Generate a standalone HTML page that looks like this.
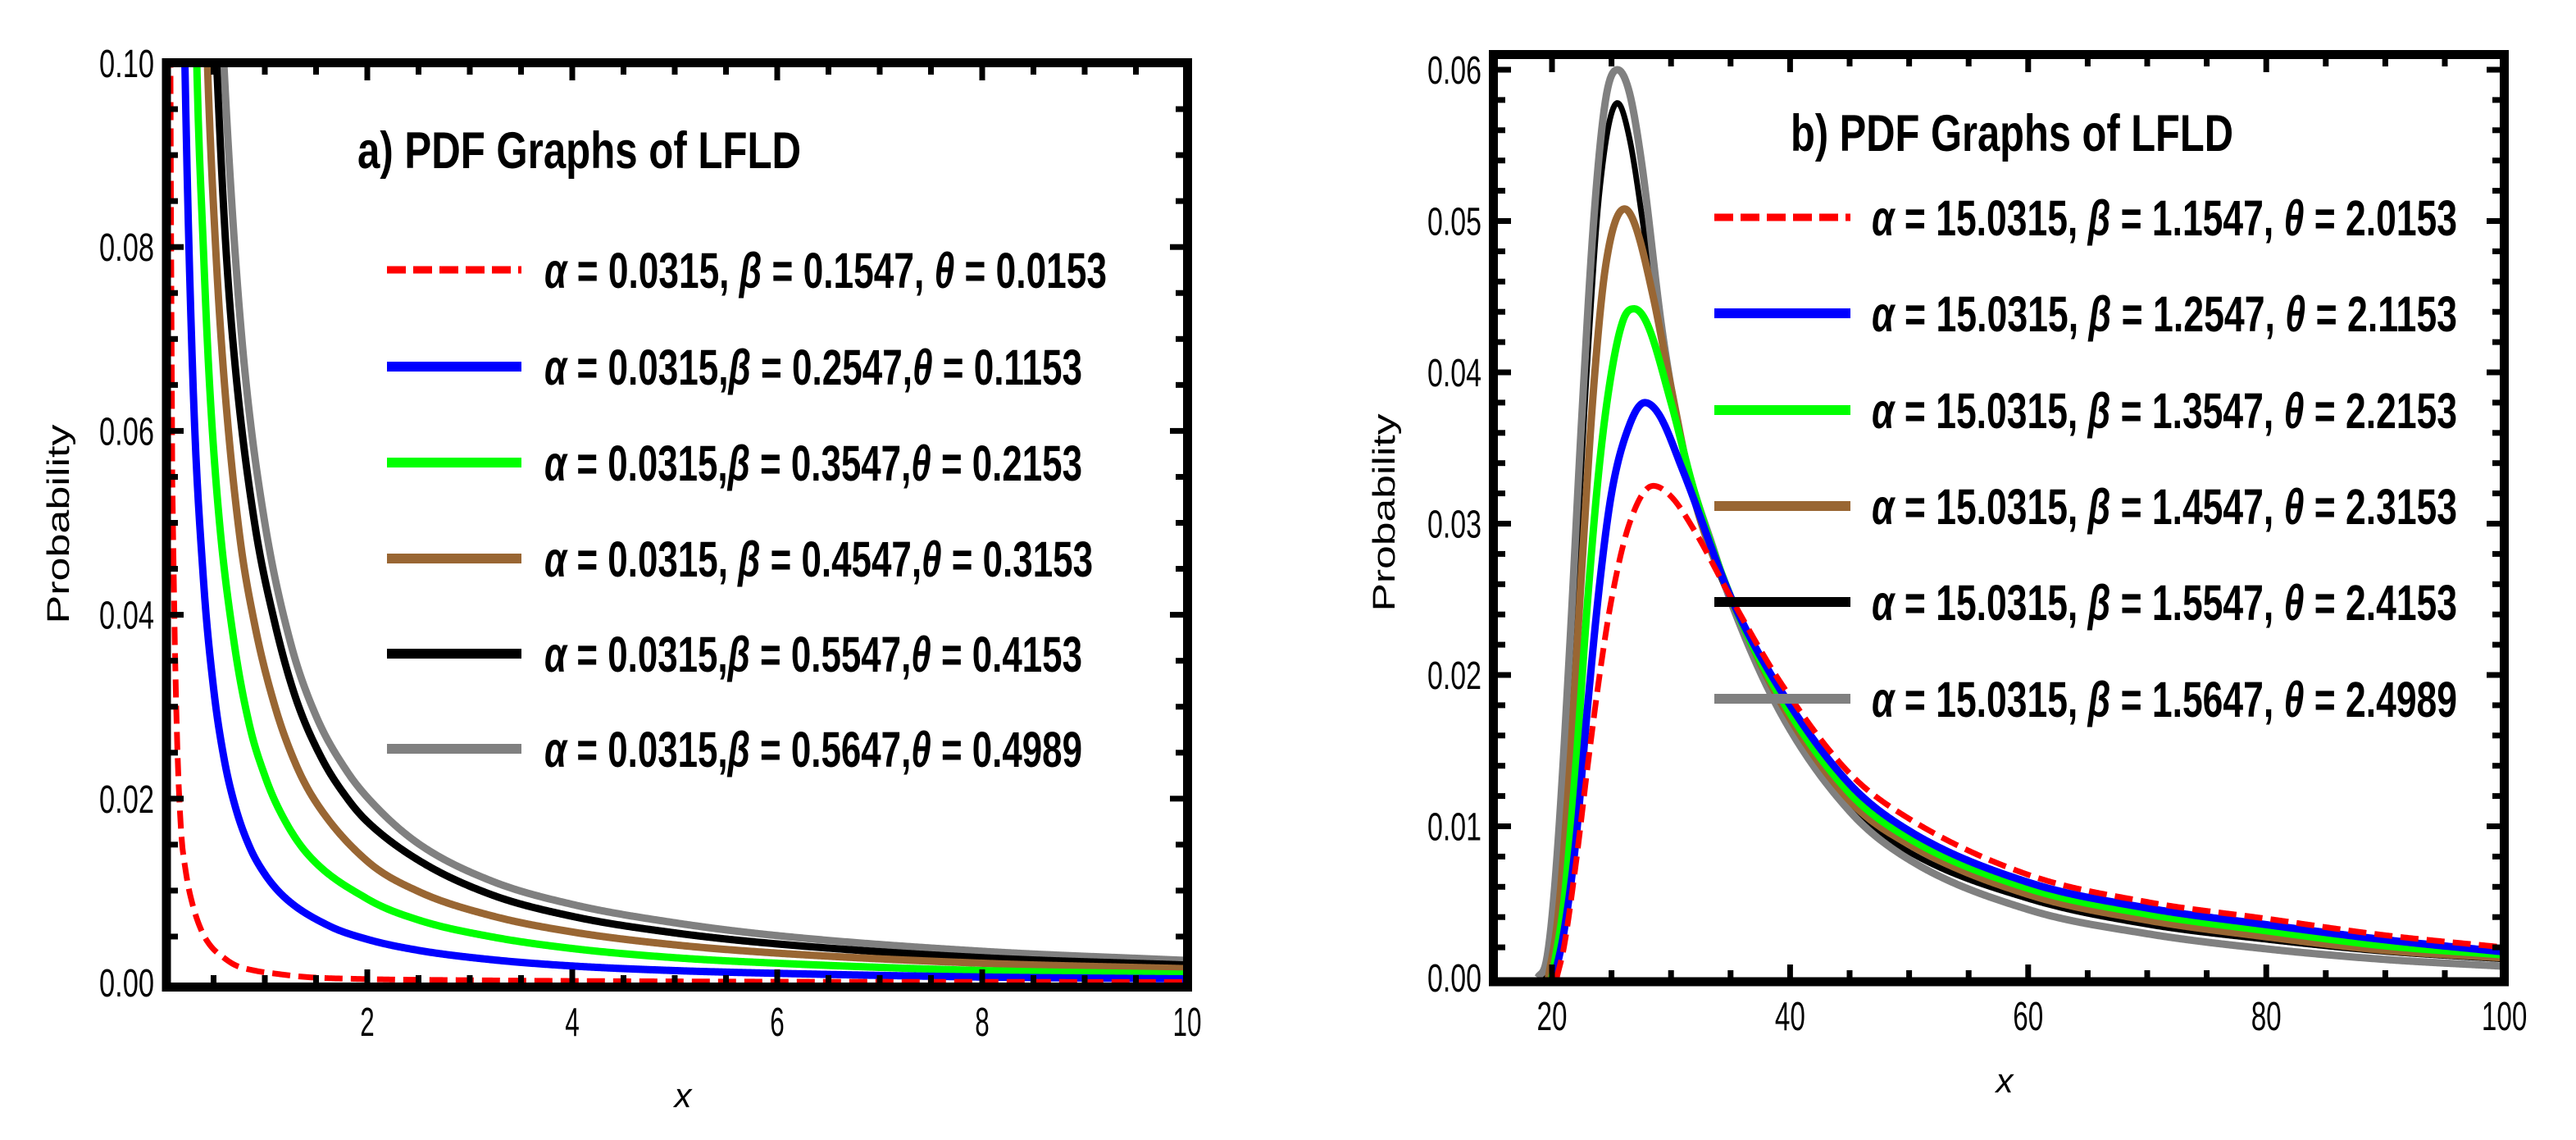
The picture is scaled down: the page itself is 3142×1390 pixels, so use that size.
<!DOCTYPE html>
<html><head><meta charset="utf-8"><style>
html,body{margin:0;padding:0;background:#fff}
svg{display:block}
text{font-family:"Liberation Sans",sans-serif}
</style></head><body>
<svg id="fig" width="3142" height="1390" viewBox="0 0 3142 1390" xmlns="http://www.w3.org/2000/svg">
<defs>
<clipPath id="clipL"><rect x="208" y="82" width="1235" height="1116"/></clipPath>
<clipPath id="clipR"><rect x="1827" y="72" width="1222" height="1120"/></clipPath>
</defs>
<g id="panelA"></g>
<g id="panelB"></g>
</svg>
<script>
// ---------- Panel a data ----------
const aRedX=[0.06,0.08,0.09,0.11,0.14,0.18,0.23,0.29,0.38,0.47,0.6,0.71,0.9,1.08,1.4,1.88,3,5,10];
const aRedY=[0.15,0.1,0.066,0.045,0.028,0.017,0.012,0.0087,0.0057,0.004,0.0027,0.0019,0.0013,0.001,0.0006,0.0004,0.00025,0.00012,0.00005];
const aBlueX=[0.18,0.22,0.3,0.4,0.5,0.6,0.71,0.85,1,1.2,1.62,2,2.5,3.2,4,5,6,8,10];
const aBlueY=[0.13,0.1,0.065,0.044,0.032,0.0245,0.0192,0.0148,0.0118,0.0092,0.0062,0.0047,0.0035,0.0025,0.0018,0.0013,0.001,0.0006,0.0004];
const aGreenX=[0.29,0.336,0.4,0.456,0.55,0.7,0.85,1,1.14,1.4,2,2.5,3.2,4,5,6,8,10];
const aGreenY=[0.13,0.1,0.08,0.066,0.051,0.037,0.028,0.0225,0.0188,0.0142,0.0091,0.0068,0.005,0.0037,0.0027,0.0021,0.0013,0.0009];
const aBrownX=[0.38,0.44,0.52,0.6,0.75,0.9,1.1,1.3,1.5,2,2.5,3.2,4,5,6,8,10];
const aBrownY=[0.125,0.1,0.08,0.066,0.049,0.039,0.03,0.0238,0.0196,0.0132,0.0099,0.0073,0.0055,0.0041,0.0032,0.0021,0.0015];
const aBlackX=[0.46,0.53,0.62,0.72,0.9,1.1,1.3,1.55,1.82,2,2.5,3.2,4,5,6,8,10];
const aBlackY=[0.12,0.1,0.08,0.066,0.05,0.039,0.031,0.0245,0.0198,0.0175,0.0133,0.0096,0.0072,0.0054,0.0042,0.0027,0.0019];
const aGreyX=[0.52,0.6,0.7,0.81,1,1.25,1.5,1.8,2.07,2.5,3.2,4,5,6,8,10];
const aGreyY=[0.12,0.1,0.081,0.066,0.05,0.037,0.029,0.023,0.0193,0.0151,0.0111,0.0085,0.0065,0.0051,0.0034,0.0024];
const aXTicks=[2,4,6,8,10];
const aYTicks=["0.00","0.02","0.04","0.06","0.08","0.10"];
const aLegend=["0.0315, |β| = 0.1547, |θ| = 0.0153","0.0315,|β| = 0.2547,|θ| = 0.1153","0.0315,|β| = 0.3547,|θ| = 0.2153","0.0315, |β| = 0.4547,|θ| = 0.3153","0.0315,|β| = 0.5547,|θ| = 0.4153","0.0315,|β| = 0.5647,|θ| = 0.4989"];
// ---------- Panel b data ----------
const bRedX=[20.4,21,22,23,24,25,26.5,28.5,30,32,35.1,39.2,45,50,60,70,80,90,100];
const bRedY=[0,0.002,0.0075,0.014,0.02,0.025,0.03,0.0325,0.0318,0.0295,0.025,0.0195,0.0135,0.0105,0.0068,0.005,0.0039,0.0028,0.002];
const bBlueX=[20.2,21,22,23,24,25,26.5,27.8,29,31,35.1,39.2,45,50,60,70,80,90,100];
const bBlueY=[0,0.003,0.009,0.018,0.026,0.032,0.0365,0.038,0.0372,0.0335,0.025,0.019,0.0128,0.0097,0.0063,0.0046,0.0035,0.0025,0.0017];
const bGreenX=[20,21,22,23,24,25,26,26.9,28,30,32,35.1,39.2,45,50,60,70,80,90,100];
const bGreenY=[0,0.005,0.014,0.025,0.034,0.04,0.0435,0.0442,0.0432,0.038,0.032,0.025,0.0185,0.0122,0.0092,0.0059,0.0042,0.0031,0.0021,0.0015];
const bBrownX=[19.7,20.5,21.5,22.5,23.5,24.5,26.1,27,28.5,30,32,35.1,39.2,45,50,60,70,80,90,100];
const bBrownY=[0,0.004,0.014,0.027,0.039,0.047,0.0508,0.0497,0.045,0.039,0.0315,0.025,0.0182,0.0117,0.0088,0.0055,0.0038,0.0027,0.0018,0.0013];
const bBlackX=[19.2,20,21,22,23,24,25.5,26.5,28,30,32,35.1,39.2,45,50,60,70,80,90,100];
const bBlackY=[0,0.003,0.013,0.027,0.041,0.052,0.0578,0.0555,0.048,0.039,0.0315,0.0247,0.0178,0.0113,0.0083,0.0052,0.0035,0.0025,0.0017,0.0012];
const bGreyX=[18.8,19.5,20,20.6,21.5,22.5,23.5,24.5,25.5,26.5,27.5,29.3,31,33.7,35.1,39.2,45,50,60,70,80,90,100];
const bGreyY=[0,0.001,0.004,0.01,0.022,0.037,0.05,0.058,0.06,0.0585,0.054,0.0425,0.035,0.028,0.0247,0.0175,0.011,0.0078,0.0045,0.0029,0.0019,0.0012,0.00075];
const bXTicks=[20,40,60,80,100];
const bYTicks=["0.00","0.01","0.02","0.03","0.04","0.05","0.06"];
const bLegend=["15.0315, |β| = 1.1547, |θ| = 2.0153","15.0315, |β| = 1.2547, |θ| = 2.1153","15.0315, |β| = 1.3547, |θ| = 2.2153","15.0315, |β| = 1.4547, |θ| = 2.3153","15.0315, |β| = 1.5547, |θ| = 2.4153","15.0315, |β| = 1.5647, |θ| = 2.4989"];

const NS="http://www.w3.org/2000/svg";
function mk(parent,tag,attrs){const e=document.createElementNS(NS,tag);for(const k in attrs)e.setAttribute(k,attrs[k]);parent.appendChild(e);return e;}
function monotone(xs,ys){const n=xs.length,d=[],m=[];for(let i=0;i<n-1;i++)d.push((ys[i+1]-ys[i])/(xs[i+1]-xs[i]));
 m[0]=d[0];m[n-1]=d[n-2];for(let i=1;i<n-1;i++){m[i]=(d[i-1]*d[i]<=0)?0:(d[i-1]+d[i])/2;}
 for(let i=0;i<n-1;i++){if(d[i]===0){m[i]=0;m[i+1]=0;continue;}const a=m[i]/d[i],b=m[i+1]/d[i],s=a*a+b*b;if(s>9){const t=3/Math.sqrt(s);m[i]=t*a*d[i];m[i+1]=t*b*d[i];}}
 return function(x){let i=0;while(i<n-2&&x>xs[i+1])i++;const h=xs[i+1]-xs[i],t=(x-xs[i])/h,t2=t*t,t3=t2*t;
  return (2*t3-3*t2+1)*ys[i]+(t3-2*t2+t)*h*m[i]+(-2*t3+3*t2)*ys[i+1]+(t3-t2)*h*m[i+1];};}
function pathFor(xs,ys,sx,sy){const f=monotone(xs,ys);let p="";const N=800;
 for(let k=0;k<=N;k++){const x=xs[0]+(xs[xs.length-1]-xs[0])*k/N;p+=(k?"L":"M")+sx(x).toFixed(2)+","+sy(f(x)).toFixed(2);}return p;}

const colors=["#ff0000","#0000ff","#00ff00","#996633","#000000","#808080"];
const seriesNames=["red","blue","green","brown","black","grey"];

function addLegendText(parent,x,y,len,t){
 const e=mk(parent,"text",{x:x,y:y,"font-size":61,"font-weight":"bold",textLength:len,lengthAdjust:"spacingAndGlyphs"});
 const parts=t.split("|");
 let a=mk(e,"tspan",{"font-style":"italic"});a.textContent="α";
 let b=mk(e,"tspan",{});b.textContent=" = "+parts[0];
 let c=mk(e,"tspan",{"font-style":"italic"});c.textContent=parts[1];
 let d=mk(e,"tspan",{});d.textContent=parts[2];
 let f=mk(e,"tspan",{"font-style":"italic"});f.textContent=parts[3];
 let h=mk(e,"tspan",{});h.textContent=parts[4];
}

// ---------- Panel A ----------
(function(){
const g=document.getElementById("panelA");
const sx=v=>198+125*v, sy=v=>1198-11210*v;
const cg=mk(g,"g",{"clip-path":"url(#clipL)"});


const XS=[aRedX,aBlueX,aGreenX,aBrownX,aBlackX,aGreyX],YS=[aRedY,aBlueY,aGreenY,aBrownY,aBlackY,aGreyY];
for(let s=5;s>=0;s--){
 const p=mk(cg,"path",{d:pathFor(XS[s],YS[s],sx,sy),fill:"none",stroke:colors[s],"stroke-width":s==0?7:9,"stroke-linejoin":"round"});
 if(s==0)p.setAttribute("stroke-dasharray","22 10");
 
 
}
const tg=mk(g,"g",{fill:"#000"});


for(let k=0;k<=20;k++){const v=k*0.5,x=sx(v),maj=(k%4==0);const L=maj?16:9;
 if(x<205||x>1445)continue;
 mk(tg,"rect",{x:x-3.5,y:1198-L,width:7,height:L});mk(tg,"rect",{x:x-3.5,y:82,width:7,height:L});}
for(let k=0;k<=20;k++){const v=k*0.005,y=sy(v),maj=(k%4==0);const L=maj?16:9;
 if(y<84||y>1195)continue;
 mk(tg,"rect",{x:208,y:y-3.5,width:L,height:7});mk(tg,"rect",{x:1443-L,y:y-3.5,width:L,height:7});}
const fr=mk(g,"rect",{x:203,y:76.5,width:1245.5,height:1127,fill:"none",stroke:"#000","stroke-width":11});


aYTicks.forEach(t=>{const v=parseFloat(t);const e=mk(g,"text",{x:188,y:sy(v)+17,"text-anchor":"end","font-size":48,textLength:67,lengthAdjust:"spacingAndGlyphs"});e.textContent=t;
 
 });
aXTicks.forEach(v=>{const s=String(v);const e=mk(g,"text",{x:sx(v),y:1263,"text-anchor":"middle","font-size":49,textLength:s.length*17.5,lengthAdjust:"spacingAndGlyphs"});e.textContent=s;
 
 });
const yt=mk(g,"text",{x:0,y:0,transform:"translate(84,639) rotate(-90)","text-anchor":"middle","font-size":38,textLength:243,lengthAdjust:"spacingAndGlyphs"});yt.textContent="Probability";


const xt=mk(g,"text",{x:833,y:1350,"text-anchor":"middle","font-size":42,"font-style":"italic"});xt.textContent="x";


const ti=mk(g,"text",{x:436,y:205,"font-size":63,"font-weight":"bold",textLength:541,lengthAdjust:"spacingAndGlyphs"});ti.textContent="a) PDF Graphs of LFLD";


const ly=[329,447,564,681,797,913],lend=[1350,1320,1320,1333,1320,1320];
aLegend.forEach((t,i)=>{const lg=mk(g,"g",{});
 
 
 const ln=mk(lg,"line",{x1:472,x2:636,y1:ly[i],y2:ly[i],stroke:colors[i],"stroke-width":i==0?9:12});
 if(i==0)ln.setAttribute("stroke-dasharray","23 9");
 addLegendText(lg,664,ly[i]+22,lend[i]-664,t);});
})();

// ---------- Panel B ----------
(function(){
const g=document.getElementById("panelB");
const sx=v=>1893+14.52*(v-20), sy=v=>1192-18450*v;
const cg=mk(g,"g",{"clip-path":"url(#clipR)"});


const XS=[bRedX,bBlueX,bGreenX,bBrownX,bBlackX,bGreyX],YS=[bRedY,bBlueY,bGreenY,bBrownY,bBlackY,bGreyY];
const order=[4,5,3,2,1,0];
order.forEach(s=>{
 const p=mk(cg,"path",{d:pathFor(XS[s],YS[s],sx,sy),fill:"none",stroke:colors[s],"stroke-width":s==0?7:(s==4?7:9),"stroke-linejoin":"round"});
 if(s==0)p.setAttribute("stroke-dasharray","22 10");
 
 
});
const tg=mk(g,"g",{fill:"#000"});


for(let v=20;v<=100;v+=5){const x=sx(v),maj=(v%20==0);const L=maj?16:9;
 if(x<1828||x>3048)continue;
 mk(tg,"rect",{x:x-3.5,y:1192-L,width:7,height:L});mk(tg,"rect",{x:x-3.5,y:72,width:7,height:L});}
for(let k=0;k<=31;k++){const v=k*0.002,y=sy(v),maj=(k%5==0);const L=maj?16:9;
 if(y<74||y>1190)continue;
 mk(tg,"rect",{x:1827,y:y-3.5,width:L,height:7});mk(tg,"rect",{x:3049-L,y:y-3.5,width:L,height:7});}
const fr=mk(g,"rect",{x:1821.5,y:66.5,width:1233,height:1130.5,fill:"none",stroke:"#000","stroke-width":11});


bYTicks.forEach(t=>{const v=parseFloat(t);const e=mk(g,"text",{x:1807,y:sy(v)+17,"text-anchor":"end","font-size":48,textLength:66,lengthAdjust:"spacingAndGlyphs"});e.textContent=t;
 
 });
bXTicks.forEach(v=>{const s=String(v);const e=mk(g,"text",{x:sx(v),y:1256,"text-anchor":"middle","font-size":49,textLength:s.length*18.5,lengthAdjust:"spacingAndGlyphs"});e.textContent=s;
 
 });
const yt=mk(g,"text",{x:0,y:0,transform:"translate(1701,625) rotate(-90)","text-anchor":"middle","font-size":38,textLength:241,lengthAdjust:"spacingAndGlyphs"});yt.textContent="Probability";


const xt=mk(g,"text",{x:2445,y:1332,"text-anchor":"middle","font-size":42,"font-style":"italic"});xt.textContent="x";


const ti=mk(g,"text",{x:2184,y:184,"font-size":63,"font-weight":"bold",textLength:540,lengthAdjust:"spacingAndGlyphs"});ti.textContent="b) PDF Graphs of LFLD";


const ly=[265,382,500,617,734,852];
bLegend.forEach((t,i)=>{const lg=mk(g,"g",{});
 
 
 const ln=mk(lg,"line",{x1:2091,x2:2257,y1:ly[i],y2:ly[i],stroke:colors[i],"stroke-width":i==0?9:12});
 if(i==0)ln.setAttribute("stroke-dasharray","23 9");
 addLegendText(lg,2283,ly[i]+22,714,t);});
})();
</script>
</body></html>
